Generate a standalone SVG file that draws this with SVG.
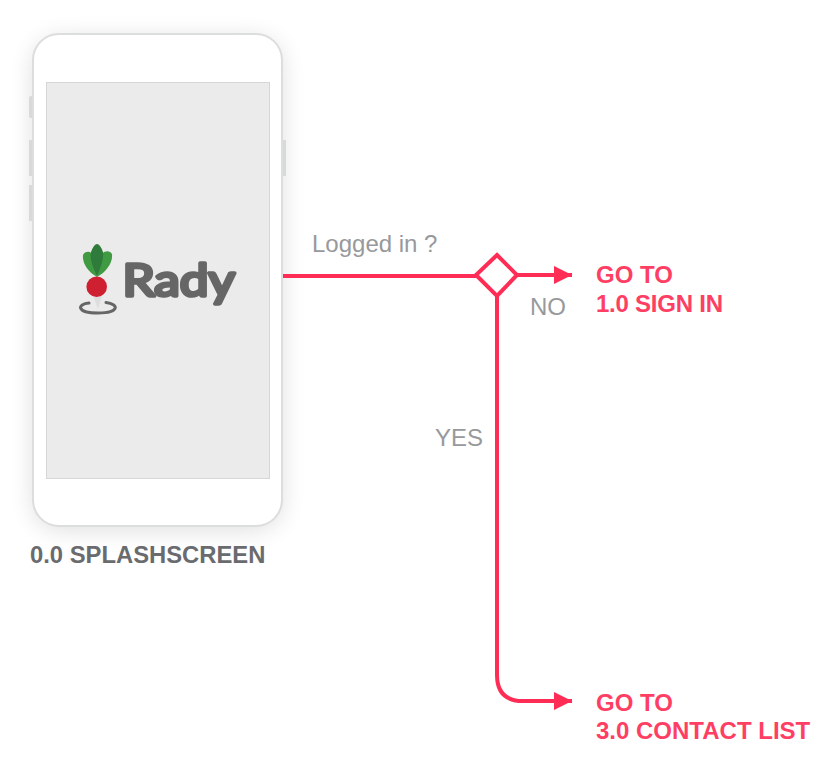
<svg xmlns="http://www.w3.org/2000/svg" width="840" height="778" viewBox="0 0 840 778">
<style>
text{font-family:"Liberation Sans",Arial,sans-serif}
.lbl{font-size:24px;fill:#97999c}
.go{font-size:24px;font-weight:700;fill:#ff3e63}
.title{font-size:23.800px;font-weight:700;fill:#6a6b6f}
.btn{fill:#d8d9d9}
.line{fill:none;stroke:#ff2d55;stroke-width:4}
</style>
<defs>
<filter id="sh" x="-30%" y="-20%" width="160%" height="140%"><feGaussianBlur stdDeviation="12"/></filter>
<marker id="arr" markerUnits="userSpaceOnUse" markerWidth="20" markerHeight="18" refX="18" refY="9" orient="auto"><path d="M0 0L18 9L0 18Z" fill="#ff2d55"/></marker>
</defs>
<g id="phone">
<rect x="33" y="38" width="249" height="492" rx="28" fill="#000" opacity=".13" filter="url(#sh)"/>
<rect class="btn" x="29" y="96" width="5" height="22" rx="2"/>
<rect class="btn" x="29" y="140" width="5" height="36"/>
<rect class="btn" x="29" y="185" width="5" height="36"/>
<rect class="btn" x="281" y="140" width="5" height="36"/>
<rect x="33" y="34" width="249" height="492" rx="26" fill="#fff" stroke="#dcdddd" stroke-width="2"/>
<rect x="46.500" y="82.500" width="223" height="396" fill="#ebebeb" stroke="#d6d6d6"/>
<text class="title" x="30" y="563">0.0 SPLASHSCREEN</text>
</g>
<g id="logo">
<path d="M97 277C88 272 82 263 83 255Q85 251 90 252Q97 258 97 277Z" fill="#3f9a42"/>
<path d="M97 277C106 272 113 263 112 254Q110 250 104 252Q97 258 97 277Z" fill="#3f9a42"/>
<path d="M97 276Q89 260 91 252Q94 244 97 244Q100 244 103 252Q104 260 97 276Z" fill="#2e7b3c"/>
<path d="M93 296L98 309L102 296Z" fill="#dedede"/>
<circle cx="96.700" cy="286.700" r="10.300" fill="#cf2032"/>
<path d="M89 303C77 304 76 313 98 313C120 313 119 304 106 302.500" fill="none" stroke="#666" stroke-width="3" stroke-linecap="round"/>
<text x="122.500" y="295.500" font-size="45" textLength="112.500" lengthAdjust="spacingAndGlyphs" fill="#666" stroke="#666" stroke-width="3.600" stroke-linejoin="round" style="font-family:Lato,'Liberation Sans',sans-serif">Rady</text>
</g>
<g id="connectors">
<path class="line" d="M283 276H476"/>
<path class="line" d="M517 275H572" marker-end="url(#arr)"/>
<path class="line" d="M497 296V675Q497 701 523 701H572" marker-end="url(#arr)"/>
</g>
<g id="decision">
<path d="M497 255L517 275L497 296L476 275Z" fill="#fff" stroke="#ff2d55" stroke-width="4"/>
</g>
<g id="labels">
<text class="lbl" x="312" y="252">Logged in ?</text>
<text class="lbl" x="530" y="315">NO</text>
<text class="lbl" x="435" y="446">YES</text>
</g>
<g id="go-signin"><text class="go" x="596" y="283">GO TO</text><text class="go" x="596" y="312" textLength="127">1.0 SIGN IN</text></g>
<g id="go-contacts"><text class="go" x="596" y="710.500">GO TO</text><text class="go" x="596" y="739">3.0 CONTACT LIST</text></g>
</svg>
